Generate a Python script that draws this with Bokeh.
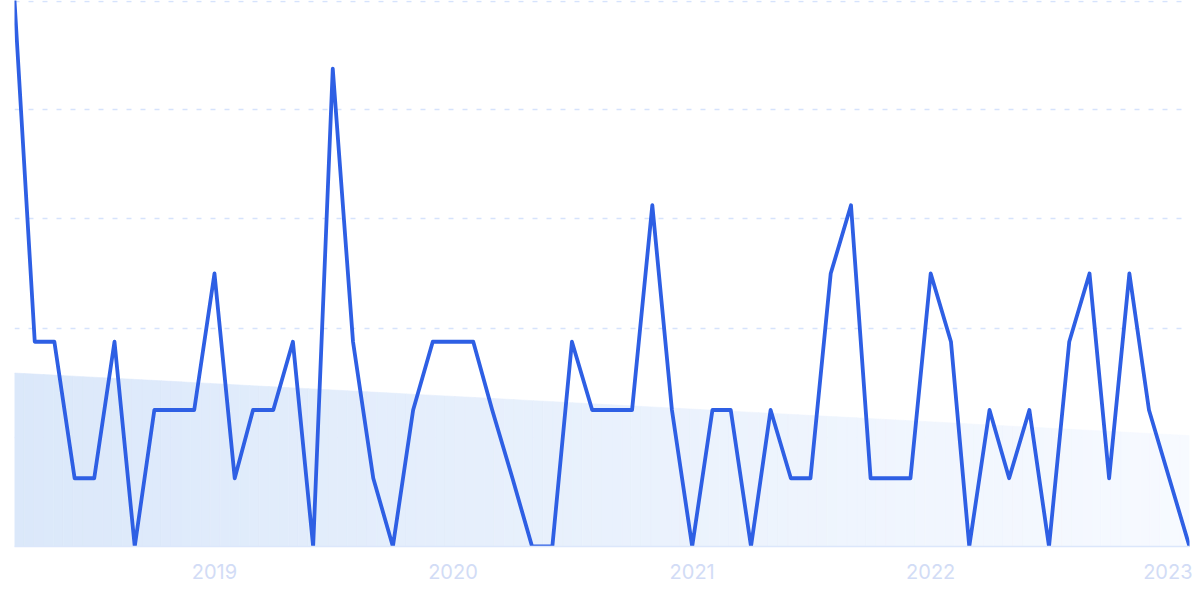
import numpy as np
import pandas as pd
from bokeh.plotting import figure
from bokeh.models import Range1d, FixedTicker, DatetimeTickFormatter
from bokeh.embed import file_html
from bokeh.resources import INLINE

# ---- data ----
start_month = "2018-03-01"
counts = [8, 3, 3, 1, 1, 3, 0, 2, 2, 2,
          4, 1, 2, 2, 3, 0, 7, 3, 1, 0,
          2, 3, 3, 3, 2, 1, 0, 0, 3, 2,
          2, 2, 5, 2, 0, 2, 2, 0, 2, 1,
          1, 4, 5, 1, 1, 1, 4, 3, 0, 2,
          1, 2, 0, 3, 4, 1, 4, 2, 1, 0]
tick_years = [2019, 2020, 2021, 2022, 2023]
grid_levels = [1.6, 3.2, 4.8, 6.4, 7.98]

months = pd.date_range(start_month, periods=len(counts), freq="MS")
xs = months.values.astype("datetime64[ms]").astype(np.int64).astype(float)
ys = np.array(counts, dtype=float)

# linear trend of the series
idx = np.arange(len(ys))
slope, intercept = np.polyfit(idx, ys, 1)
trend = intercept + slope * idx

LINE = "#2e5fe4"
TXT = "#d2dcf6"
GRID = "#d6e3fc"

p = figure(width=1192, height=591, x_axis_type="datetime",
           output_backend="svg", toolbar_location=None,
           min_border_left=14, min_border_right=3, min_border_top=0,
           min_border_bottom=45)
p.x_range = Range1d(xs[0], xs[-1])
p.y_range = Range1d(0, 8.0)
p.outline_line_color = None
p.background_fill_color = "white"
p.border_fill_color = "white"

# gradient-like trend area, split in strips
def lerp(c1, c2, t):
    a = [int(c1[i:i + 2], 16) for i in (1, 3, 5)]
    b = [int(c2[i:i + 2], 16) for i in (1, 3, 5)]
    return "#%02x%02x%02x" % tuple(int(round(a[k] + (b[k] - a[k]) * t)) for k in range(3))

c_left, c_right = "#dbe8fa", "#f7faff"
nstrip = 120
px, py, pc = [], [], []
tx = np.linspace(xs[0], xs[-1], nstrip + 1)
ty = np.interp(tx, xs, trend)
for i in range(nstrip):
    px.append([tx[i], tx[i + 1], tx[i + 1], tx[i]])
    py.append([ty[i], ty[i + 1], 0, 0])
    pc.append(lerp(c_left, c_right, (i + 0.5) / nstrip))
p.patches(px, py, fill_color=pc, line_color=pc, line_width=0.6)

p.line(xs, ys, line_color=LINE, line_width=3.8, line_join="round", line_cap="round")

# axes / grid
p.yaxis.visible = False
p.xgrid.visible = False
p.ygrid.ticker = FixedTicker(ticks=grid_levels)
p.ygrid.grid_line_color = GRID
p.ygrid.grid_line_dash = "5 9"
p.ygrid.grid_line_width = 1.5

tick_ms = [pd.Timestamp(f"{y}-01-01").value / 1e6 for y in tick_years]
xa = p.xaxis[0]
xa.ticker = FixedTicker(ticks=tick_ms)
xa.formatter = DatetimeTickFormatter(years="%Y", months="%Y", days="%Y")
xa.axis_line_color = "#dce7fb"
xa.axis_line_width = 1.5
xa.major_tick_line_color = None
xa.minor_tick_line_color = None
xa.major_tick_out = 0
xa.major_tick_in = 0
xa.major_label_standoff = 17
xa.major_label_text_color = TXT
xa.major_label_text_font = "Inter"
xa.major_label_text_font_size = "20px"

open("out.html", "w").write(file_html(p, INLINE))
